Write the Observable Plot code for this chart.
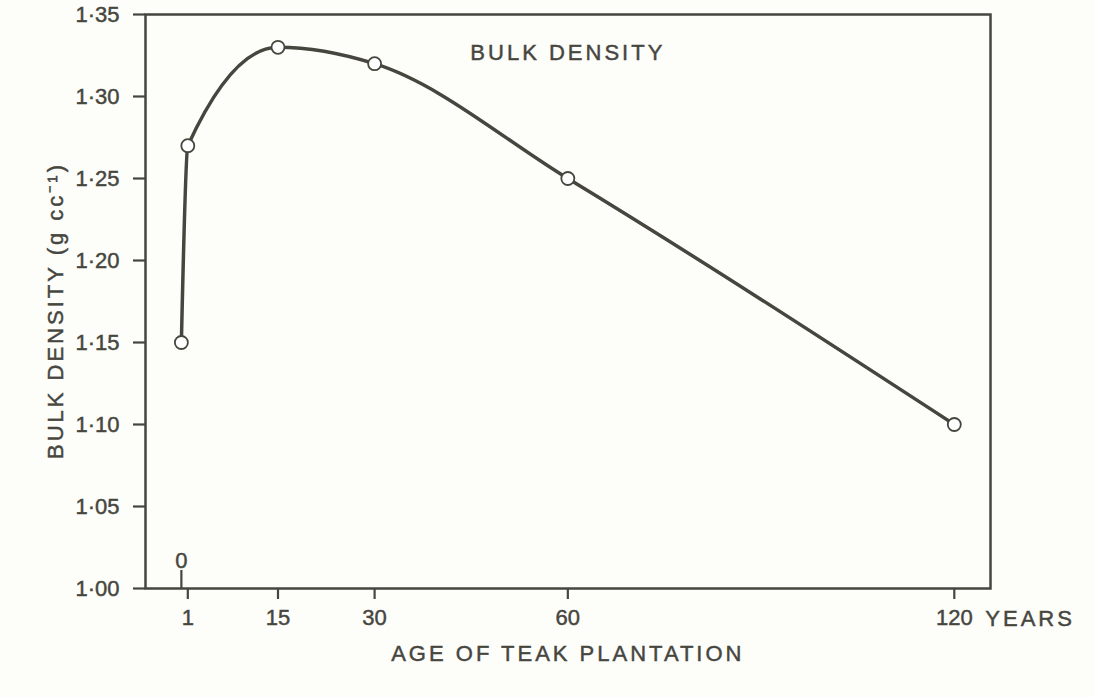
<!DOCTYPE html>
<html>
<head>
<meta charset="utf-8">
<script src="https://cdn.jsdelivr.net/npm/d3@7"></script>
<script src="https://cdn.jsdelivr.net/npm/@observablehq/plot@0.6"></script>
<style>
  html, body { margin: 0; padding: 0; background: #fdfdf9; }
  #chart { width: 1095px; height: 697px; }
</style>
</head>
<body>
<div id="chart"></div>
<script>
// Data
const ages = [0, 1, 15, 30, 60, 120];
const bulkDensity = [1.15, 1.27, 1.33, 1.32, 1.25, 1.10];
const xTicks = [1, 15, 30, 60, 120];
const yTicks = [1.00, 1.05, 1.10, 1.15, 1.20, 1.25, 1.30, 1.35];
const zeroTick = [0];

const data = ages.map((a, i) => ({age: a, bd: bulkDensity[i]}));
const ink = "#46463f";
const font = "Liberation Sans, Arial, sans-serif";

const chart = Plot.plot({
  width: 1095,
  height: 697,
  marginLeft: 145,
  marginRight: 105,
  marginTop: 14,
  marginBottom: 109,
  style: {fontFamily: font, fontSize: "22px", color: ink, background: "#fdfdf9", overflow: "visible"},
  x: {domain: [-5.57, 125.62], axis: null},
  y: {domain: [1.0, 1.35], axis: null},
  marks: [
    Plot.frame({stroke: ink, strokeWidth: 2.5}),
    Plot.axisY({ticks: yTicks, tickSize: 12, tickPadding: 14, strokeWidth: 2.2, stroke: ink,
      tickFormat: d => d.toFixed(2).replace(".", "·"), label: null, fontSize: 22}),
    Plot.axisX({ticks: xTicks, tickSize: 11, tickPadding: 10, strokeWidth: 2.2, stroke: ink,
      tickFormat: d => String(d), label: null, fontSize: 22}),
    // the "0" age tick, drawn upward inside the frame
    Plot.ruleX(zeroTick, {x: d => d, y1: 1.0, y2: 1.011, stroke: ink, strokeWidth: 2.2}),
    Plot.text(zeroTick, {x: d => d, y: 1.0, dy: -28, text: d => String(d), fill: ink, fontSize: 22}),
    Plot.text(["YEARS"], {x: 120, y: 1.0, dx: 31, dy: 30, text: d => d, textAnchor: "start",
      fill: ink, fontSize: 22}),
    Plot.line(data, {x: "age", y: "bd", curve: "monotone-x", stroke: ink, strokeWidth: 3.5}),
    Plot.dot(data, {x: "age", y: "bd", r: 6.5, fill: "white", stroke: ink, strokeWidth: 1.8}),
    Plot.text(["BULK DENSITY"], {x: 60, y: 1.35, dy: 38, text: d => d, fill: ink, fontSize: 22}),
    Plot.text(["AGE OF TEAK PLANTATION"], {x: 60, y: 1.0, dy: 65, text: d => d, fill: ink, fontSize: 22}),
    Plot.text(["BULK DENSITY (g cc⁻¹)"], {x: -5.57, y: 1.1695, dx: -90, text: d => d, rotate: -90,
      fill: ink, fontSize: 22})
  ]
});

// lettering look: slightly heavier strokes, wide spacing on words
d3.select(chart).selectAll("text")
  .attr("stroke", ink).attr("stroke-width", 0.45)
  .filter(function() { return /[A-Z]/.test(this.textContent); })
  .style("letter-spacing", "3px");

document.getElementById("chart").appendChild(chart);
</script>
</body>
</html>
